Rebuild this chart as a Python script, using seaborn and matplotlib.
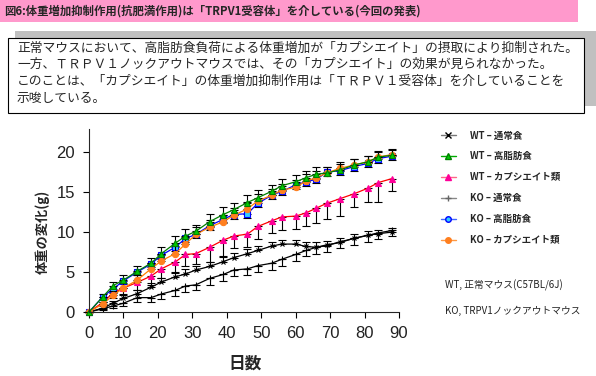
import numpy as np
import pandas as pd
import seaborn as sns
import matplotlib.pyplot as plt
from matplotlib.patches import Rectangle
from matplotlib.lines import Line2D

# measurement days
days = [0, 4, 7, 10, 14, 18, 21, 25, 28, 31, 35, 39, 42, 46, 49, 53, 56, 60, 63, 66, 69, 73, 77, 81, 84, 88]

# body weight change (g)
wt_normal = [0, 0.5, 1.1, 1.7, 2.3, 3.1, 3.75, 4.4, 4.75, 5.25, 5.7, 6.3, 6.8, 7.3, 7.7, 8.25, 8.5, 8.5, 8.2, 8.1, 8.4, 8.7, 9.25, 9.6, 9.8, 10.0]
wt_hfd = [0, 1.9, 3.3, 4.0, 5.1, 6.1, 7.3, 8.6, 9.5, 10.1, 11.3, 12.2, 12.8, 13.7, 14.3, 15.1, 15.8, 16.3, 16.8, 17.25, 17.4, 17.8, 18.4, 18.8, 19.4, 19.6]
wt_caps = [0, 1.2, 2.4, 3.0, 3.7, 4.5, 5.4, 6.25, 7.2, 7.3, 8.1, 9.0, 9.5, 9.75, 10.7, 11.4, 11.9, 12.0, 12.4, 13.0, 13.6, 14.2, 14.8, 15.5, 16.2, 16.7]
ko_normal = [0, 0.4, 0.75, 1.1, 1.8, 1.8, 2.25, 2.7, 3.25, 3.4, 4.2, 4.7, 5.25, 5.4, 5.8, 6.1, 6.6, 7.2, 7.7, 8.1, 8.3, 8.8, 9.2, 9.6, 9.9, 10.2]
ko_hfd = [0, 1.9, 2.9, 3.9, 5.0, 6.0, 7.1, 8.1, 9.2, 9.7, 10.8, 11.6, 12.2, 12.3, 13.6, 14.6, 15.1, 15.9, 16.3, 16.6, 17.5, 17.7, 18.2, 18.6, 19.2, 19.5]
ko_caps = [0, 1.0, 2.1, 3.0, 4.0, 5.4, 6.4, 7.3, 8.5, 9.7, 10.6, 11.3, 12.1, 12.9, 13.9, 14.6, 15.25, 15.6, 16.4, 16.8, 17.4, 18.0, 18.4, 18.8, 19.4, 19.7]

# one-sided error bars (g)
wt_normal_err = [0, 0.2, 0.3, 0.4, 0.4, 0.5, 0.5, 0.6, 0.6, 0.5, 0.6, 0.6, 0.6, 0.6, 0.6, 0.5, 0.5, 0.5, 0.5, 0.6, 0.5, 0.5, 0.5, 0.5, 0.5, 0.5]
wt_hfd_err = [0, 0.3, 0.5, 0.6, 0.6, 0.7, 0.8, 0.9, 0.9, 0.8, 1.0, 0.9, 0.9, 1.0, 1.0, 0.8, 0.8, 0.9, 0.8, 0.9, 0.8, 0.7, 0.8, 0.7, 0.6, 0.7]
wt_caps_err = [0, 0.3, 0.6, 0.8, 1.0, 1.1, 1.2, 1.4, 1.5, 1.3, 1.8, 2.0, 1.5, 1.6, 1.6, 1.5, 1.6, 1.6, 1.7, 1.9, 1.9, 2.2, 1.6, 1.7, 2.4, 1.5]
ko_normal_err = [0, 0.2, 0.3, 0.4, 0.5, 0.6, 0.6, 0.7, 0.7, 0.7, 0.8, 0.8, 0.8, 0.8, 0.8, 0.8, 0.8, 0.8, 0.7, 0.8, 0.8, 0.8, 0.8, 0.8, 0.8, 0.7]
ko_hfd_err = [0, 0.3, 0.4, 0.4, 0.4, 0.4, 0.5, 0.5, 0.5, 0.5, 0.5, 0.5, 0.5, 0.5, 0.5, 0.5, 0.5, 0.5, 0.5, 0.5, 0.5, 0.5, 0.5, 0.5, 0.5, 0.5]
ko_caps_err = [0, 0.3, 0.5, 0.6, 0.6, 0.7, 0.8, 0.9, 0.9, 0.9, 0.9, 0.9, 0.9, 0.9, 0.9, 0.8, 0.8, 0.9, 0.9, 0.9, 0.8, 0.8, 0.8, 0.7, 0.7, 0.7]

labels = ['WT – 通常食', 'WT – 高脂肪食', 'WT – カプシエイト類',
          'KO – 通常食', 'KO – 高脂肪食', 'KO – カプシエイト類']

title = '図6:体重増加抑制作用(抗肥満作用)は「TRPV1受容体」を介している(今回の発表)'
body = ['正常マウスにおいて、高脂肪食負荷による体重増加が「カプシエイト」の摂取により抑制された。',
        '一方、ＴＲＰＶ１ノックアウトマウスでは、その「カプシエイト」の効果が見られなかった。',
        'このことは、「カプシエイト」の体重増加抑制作用は「ＴＲＰＶ１受容体」を介していることを',
        '示唆している。']

#
#
#
W, H = 596, 376


def fx(x):
    return x / W


def fy(y):
    return 1 - y / H


sns.set_style('ticks')
plt.rcParams['font.family'] = ['Noto Sans CJK JP', 'DejaVu Sans']

fig = plt.figure(figsize=(W / 100, H / 100), dpi=100)

# header banner
fig.patches.append(Rectangle((0, fy(22)), fx(578), 22 / H, transform=fig.transFigure,
                             facecolor='#FF99CC', edgecolor='none'))
fig.text(fx(4), fy(11), title, fontsize=8.2, fontweight='bold', va='center', ha='left')

# description box with shadow
fig.patches.append(Rectangle((fx(15), fy(106)), fx(596 - 15), 75 / H, transform=fig.transFigure,
                             facecolor='#C0C0C0', edgecolor='none'))
fig.patches.append(Rectangle((fx(8), fy(113)), fx(584 - 8), 75 / H, transform=fig.transFigure,
                             facecolor='white', edgecolor='black', linewidth=0.8))
for i, line in enumerate(body):
    fig.text(fx(17), fy(48 + i * 16.8), line, fontsize=9.2, va='center', ha='left')

# chart
ax = fig.add_axes([fx(89), fy(312), fx(399 - 89), (312 - 129) / H])

series = [
    (ko_normal, ko_normal_err, 'down', 'black', '+', 'black', 'black', 5),
    (wt_normal, wt_normal_err, 'up', 'black', 'x', 'black', 'black', 3.5),
    (wt_caps, wt_caps_err, 'down', '#FF0000', '^', '#FF0099', '#FF0099', 4),
    (ko_hfd, ko_hfd_err, 'down', '#0000FF', 's', '#33CCFF', '#0000FF', 4),
    (ko_caps, ko_caps_err, 'up', '#FF8000', 'o', '#FF7F1F', '#FF7F1F', 4.5),
    (wt_hfd, wt_hfd_err, 'up', '#008000', '^', '#00CC00', '#008000', 4),
]

for vals, err, side, color, marker, mfc, mec, ms in series:
    zeros = np.zeros(len(err))
    yerr = [err, zeros] if side == 'down' else [zeros, err]
    ax.errorbar(days, vals, yerr=yerr, fmt='none', ecolor='black',
                elinewidth=0.8, capsize=3, capthick=0.8, clip_on=False)
    df = pd.DataFrame({'day': days, 'gain': vals})
    sns.lineplot(data=df, x='day', y='gain', ax=ax, color=color, linewidth=0.9,
                 marker=marker, markersize=ms, markerfacecolor=mfc,
                 markeredgecolor=mec, markeredgewidth=0.8, clip_on=False)

ax.set_xlim(0, 90)
ax.set_ylim(0, 22.9)
ax.set_xticks(range(0, 91, 10))
ax.set_yticks(range(0, 21, 5))
ax.tick_params(axis='both', labelsize=12, length=4, width=0.8, colors='black',
               labelcolor='#222222', pad=6)
for lab in ax.get_xticklabels() + ax.get_yticklabels():
    lab.set_family(['Liberation Sans', 'DejaVu Sans'])
    lab.set_fontweight('light')
ax.spines['right'].set_visible(False)
ax.spines['top'].set_visible(False)
for s in ('left', 'bottom'):
    ax.spines[s].set_linewidth(0.8)
ax.set_xlabel('')
ax.set_ylabel('')

fig.text(fx(42), fy(232), '体重の変化(g)', rotation=90, fontsize=9.5,
         fontweight='bold', va='center', ha='center')
fig.text(fx(245), fy(364), '日数', fontsize=12, fontweight='bold', va='center', ha='center')

# legend
handles = [
    Line2D([], [], color='#777777', marker='x', markersize=4, markeredgecolor='black', linewidth=1),
    Line2D([], [], color='#00AA00', marker='^', markersize=4, markerfacecolor='#00CC00', markeredgecolor='#008000', linewidth=1),
    Line2D([], [], color='#FF6688', marker='^', markersize=4, markerfacecolor='#FF0099', markeredgecolor='#FF0099', linewidth=1),
    Line2D([], [], color='#888888', marker='+', markersize=5, markeredgecolor='#666666', linewidth=1),
    Line2D([], [], color='#4466FF', marker='o', markersize=4, markerfacecolor='#33CCFF', markeredgecolor='#0000FF', linewidth=1),
    Line2D([], [], color='#FF9944', marker='o', markersize=4, markerfacecolor='#FF7F1F', markeredgecolor='#FF7F1F', linewidth=1),
]
fig.legend(handles, labels, loc='upper left', bbox_to_anchor=(fx(432), fy(122)),
           frameon=False, handlelength=1.6, handletextpad=1.5, labelspacing=1.15,
           prop={'family': ['Noto Sans CJK JP', 'DejaVu Sans'], 'weight': 'bold', 'size': 6.8})

fig.text(fx(445), fy(285), 'WT, 正常マウス(C57BL/6J)', fontsize=7, va='center', ha='left', color='#222222')
fig.text(fx(445), fy(311), 'KO, TRPV1ノックアウトマウス', fontsize=7, va='center', ha='left', color='#222222')

plt.savefig('out.png', dpi=100)
